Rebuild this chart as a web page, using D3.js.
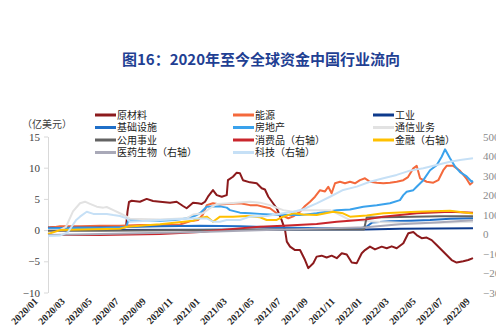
<!DOCTYPE html>
<html>
<head>
<meta charset="utf-8">
<script src="https://cdn.jsdelivr.net/npm/d3@7"></script>
<style>
  html, body { margin: 0; padding: 0; background: #fff; }
  svg { display: block; }
</style>
</head>
<body>
<svg id="chart" width="496" height="328"></svg>
<script>
// Months elapsed since 2020/01 for each observation, paired with the net flow value.
const tickLabels = ["2020/01","2020/03","2020/05","2020/07","2020/09","2020/11",
  "2021/01","2021/03","2021/05","2021/07","2021/09","2021/11",
  "2022/01","2022/03","2022/05","2022/07","2022/09"];

const leftTicks = [-10, -5, 0, 5, 10, 15];
const rightTicks = [-300, -200, -100, 0, 100, 200, 300, 400, 500];

// 原材料 (left axis, 亿美元)
const materials = [[0,0.4],[0.89,0.5],[2.37,0.4],[3.85,0.5],[5.33,0.4],[5.78,0.5],[5.89,3.0],[6.0,4.5],
  [6.2,4.7],[6.81,4.55],[7.31,5.0],[7.78,4.66],[8.3,4.55],[9.04,4.4],[9.53,4.55],[10.0,3.86],[10.27,3.5],
  [10.74,4.4],[11.11,4.3],[11.39,4.2],[11.63,4.55],[11.85,5.35],[12.22,6.4],[12.5,5.6],[12.87,5.35],
  [13.24,5.6],[13.33,8.0],[13.7,8.55],[13.98,9.2],[14.22,9.1],[14.44,8.0],[14.96,7.65],[15.46,7.5],
  [15.83,6.7],[16.07,6.5],[16.32,5.35],[16.94,3.5],[17.31,1.6],[17.56,0],[17.69,-1.85],[17.93,-2.65],
  [18.3,-3.2],[18.67,-3.2],[19.04,-4.8],[19.28,-6.1],[19.65,-5.3],[19.9,-4.25],[20.27,-4.1],[20.64,-4.4],
  [21.01,-4.1],[21.39,-4.5],[21.76,-3.7],[22.13,-3.9],[22.5,-5.2],[22.87,-5.3],[23.24,-3.7],[23.48,-3.2],
  [23.85,-2.65],[24.22,-3.1],[24.72,-2.65],[25.09,-2.9],[25.46,-2.6],[25.83,-2.9],[26.32,-2.1],[26.69,-0.5],
  [27.06,-0.3],[27.31,-0.8],[27.68,-1.3],[28.05,-1.2],[28.42,-1.6],[28.79,-2.4],[29.16,-3.2],[29.53,-4.0],
  [29.9,-4.8],[30.27,-5.2],[30.76,-5.0],[31.13,-4.8],[31.48,-4.5]];

// 能源 (left axis)
const energy = [[0,0.3],[0.89,0.6],[2.37,0.6],[3.85,0.7],[5.33,0.7],[6.81,0.8],[8.3,0.8],[9.78,0.9],
  [10.52,1.4],[11.11,1.6],[11.48,2.5],[11.76,4.0],[12.22,4.3],[12.74,4.1],[13.24,4.2],[14.22,4.3],
  [14.96,4.0],[15.46,4.0],[15.95,3.75],[16.44,3.5],[16.94,2.7],[17.43,2.26],[17.8,1.9],[18.17,2.2],
  [18.67,2.95],[19.04,3.86],[19.41,4.55],[19.78,5.35],[20.15,6.4],[20.52,6.2],[20.76,6.95],[21.01,5.9],
  [21.26,7.5],[21.63,7.75],[22.0,7.5],[22.37,7.75],[22.74,7.5],[23.11,8.0],[23.48,8.3],[23.85,7.75],
  [24.35,7.6],[24.84,7.5],[25.33,7.6],[25.83,7.75],[26.32,8.0],[26.67,8.5],[27.06,9.9],[27.31,10.3],
  [27.56,8.3],[28.05,7.75],[28.54,7.6],[28.91,8.0],[29.28,9.6],[29.53,10.3],[30.02,10.3],[30.52,9.5],
  [31.01,8.2],[31.26,7.3],[31.48,7.7]];

// 工业 (left axis)
const industrials = [[0,0.0],[3.85,0.0],[11.26,0.05],[18.67,0.1],[23.56,0.1],[26.07,0.2],[31.48,0.3]];

// 基础设施 (left axis)
const infrastructure = [[0,0.3],[2.37,0.4],[5.33,0.4],[5.85,0.5],[8.3,0.6],[11.26,0.7],[14.22,0.6],
  [17.18,0.4],[20.15,0.3],[23.11,0.3],[23.56,0.5],[24.0,1.2],[25.33,1.4],[26.81,1.5],[28.3,1.6],
  [29.78,1.8],[31.48,1.9]];

// 房地产 (left axis)
const realEstate = [[0,0.2],[1.63,0.3],[3.85,0.3],[5.33,0.4],[5.81,0.5],[5.96,1.7],[6.81,1.6],[8.3,1.5],
  [9.41,1.6],[10.27,1.9],[10.89,2.3],[11.26,2.7],[11.76,3.75],[12.22,3.8],[12.74,3.8],[13.24,3.6],
  [13.48,3.2],[14.22,2.8],[14.96,2.7],[15.7,2.6],[16.44,2.5],[17.43,2.4],[18.67,2.4],[19.9,2.7],
  [21.39,3.2],[22.37,3.3],[23.36,3.75],[24.35,4.0],[25.33,4.3],[26.07,4.8],[26.32,5.6],[26.57,6.15],
  [27.06,6.4],[27.31,6.95],[27.8,8.0],[28.3,9.6],[28.79,10.4],[29.16,11.75],[29.41,12.95],[29.78,11.5],
  [30.15,10.2],[30.52,9.3],[31.01,8.6],[31.39,7.75],[31.48,7.9]];

// 通信业务 (left axis)
const telecom = [[0,0.0],[0.89,0.0],[1.33,0.5],[1.85,3.0],[2.37,4.3],[2.74,4.55],[3.11,4.2],[3.61,3.75],
  [4.1,3.6],[4.35,3.7],[4.84,3.2],[5.33,2.7],[5.83,2.15],[6.07,1.8],[8.3,1.7],[10.27,1.9],[10.74,2.5],
  [11.48,2.7],[12.0,3.5],[12.5,4.2],[13.48,4.3],[14.96,4.55],[15.7,4.4],[16.44,4.0],[17.43,3.2],
  [18.17,2.95],[18.91,3.2],[20.89,3.2],[21.39,2.7],[22.37,1.6],[24.59,1.3],[27.56,1.1],[29.78,1.2],
  [31.48,1.35]];

// 公用事业 (left axis)
const utilities = [[0,-0.1],[3.85,-0.1],[11.26,0.0],[18.67,0.1],[23.41,0.1],[23.6,2.0],[26.07,2.1],
  [29.04,2.2],[31.48,2.2]];

// 消费品 (right axis)
const consumer = [[0,-5],[3.85,-5],[8.3,0],[11.26,10],[13.48,25],[15.7,37],[17.41,42],[19.9,51],
  [21.39,63],[22.37,68],[23.61,75],[24.81,89],[26.07,97],[27.31,106],[29.78,114],[31.48,109]];

// 金融 (right axis)
const financials = [[0,0],[0.89,20],[3.33,24],[5.33,27],[5.85,37],[8.3,50],[10.74,68],[11.26,82],
  [11.76,89],[12.22,63],[12.74,89],[13.7,89],[14.72,92],[15.7,86],[16.2,72],[16.94,72],[17.43,89],
  [18.17,106],[18.91,100],[19.9,97],[21.13,114],[21.85,106],[22.37,89],[23.61,95],[24.84,106],
  [26.07,110],[27.31,114],[29.78,119],[31.48,105]];

// 医药生物 (right axis)
const healthcare = [[0,-5],[3.85,0],[11.26,10],[18.67,25],[23.56,35],[26.07,50],[29.04,60],[31.48,70]];

// 科技 (right axis)
const technology = [[0,-10],[0.89,-8],[1.48,10],[2.07,70],[2.37,89],[2.87,114],[3.36,103],[3.85,102],
  [4.35,103],[4.84,97],[5.33,92],[5.83,80],[6.07,63],[8.3,72],[10.74,80],[11.76,80],[12.22,63],
  [12.74,63],[13.24,72],[14.22,72],[14.96,89],[16.2,92],[17.43,106],[18.17,114],[18.91,127],[19.9,157],
  [20.89,191],[21.87,226],[22.87,243],[23.85,268],[24.84,286],[25.83,303],[26.81,325],[27.8,337],
  [28.79,354],[29.78,371],[30.52,380],[31.48,388]];

const seriesNames = ["原材料","能源","工业","基础设施","房地产","通信业务","公用事业",
  "消费品（右轴）","金融（右轴）","医药生物（右轴）","科技（右轴）"];
const seriesData = [materials, energy, industrials, infrastructure, realEstate, telecom, utilities,
  consumer, financials, healthcare, technology];
const seriesAxis = ["L","L","L","L","L","L","L","R","R","R","R"];
const seriesColors = ["#8c1a1c","#f4693c","#0d3a8c","#1f6fc8","#3aa2ec","#e2e2e2","#636363",
  "#c9262c","#ffc000","#a9a9b8","#c6e0f6"];

const svg = d3.select("#chart");

// Title
svg.append("text")
  .attr("x", 261).attr("y", 65)
  .attr("text-anchor", "middle")
  .attr("font-family", "'Noto Sans CJK SC', sans-serif")
  .attr("font-weight", "bold")
  .attr("font-size", 15)
  .attr("fill", "#1f3f93")
  .text("图16：2020年至今全球资金中国行业流向");

// Scales
const x = d3.scaleLinear().domain([0, 32]).range([48, 480]);
const yL = d3.scaleLinear().domain([-10, 15]).range([292.5, 136.5]);
const yR = d3.scaleLinear().domain([-300, 500]).range([292.5, 136.5]);

// Unit label
svg.append("text")
  .attr("x", 22).attr("y", 128)
  .attr("font-family", "'Noto Sans CJK SC', sans-serif")
  .attr("font-size", 10)
  .attr("fill", "#404040")
  .text("（亿美元）");

// Left axis
const gL = svg.append("g")
  .attr("transform", "translate(48,0)")
  .call(d3.axisLeft(yL).tickValues(leftTicks).tickSize(4).tickSizeOuter(0).tickPadding(4));
gL.select(".domain").attr("stroke", "#d9d9d9");
gL.selectAll(".tick line").attr("stroke", "#d9d9d9");
gL.selectAll(".tick text")
  .attr("font-family", "'Liberation Serif', serif")
  .attr("font-size", 11)
  .attr("fill", "#404040");

// Right axis (labels run past the right edge of the frame)
const gR = svg.append("g")
  .attr("transform", "translate(483,0)")
  .call(d3.axisRight(yR).tickValues(rightTicks).tickSize(0).tickPadding(0));
gR.select(".domain").remove();
gR.selectAll(".tick text")
  .attr("font-family", "'Liberation Serif', serif")
  .attr("font-size", 11)
  .attr("fill", "#8a8a8a");

// Bottom axis with rotated date labels
const gX = svg.append("g")
  .attr("transform", "translate(0,302)")
  .call(d3.axisBottom(x)
    .tickValues(d3.range(0, 33, 2))
    .tickFormat((d, i) => tickLabels[i])
    .tickSize(0));
gX.select(".domain").remove();
gX.selectAll(".tick text")
  .attr("y", 0).attr("dy", 0)
  .attr("text-anchor", "end")
  .attr("transform", "translate(-10,0) rotate(-45)")
  .attr("font-family", "'Liberation Serif', serif")
  .attr("font-weight", "bold")
  .attr("font-size", 10)
  .attr("fill", "#262626");

// Lines
seriesData.forEach((data, i) => {
  const yScale = seriesAxis[i] === "L" ? yL : yR;
  const line = d3.line().x(d => x(d[0])).y(d => yScale(d[1]));
  svg.append("path")
    .datum(data)
    .attr("fill", "none")
    .attr("stroke", seriesColors[i])
    .attr("stroke-width", 2)
    .attr("stroke-linejoin", "round")
    .attr("d", line);
});

// Legend: three columns, four rows
const legendCols = [95, 233, 373];
const legendRows = [115, 127.5, 140, 152.5];
seriesNames.forEach((name, i) => {
  const cx = legendCols[i % 3];
  const cy = legendRows[Math.floor(i / 3)];
  const g = svg.append("g");
  g.append("line")
    .attr("x1", cx).attr("x2", cx + 21)
    .attr("y1", cy).attr("y2", cy)
    .attr("stroke", seriesColors[i])
    .attr("stroke-width", 3);
  g.append("text")
    .attr("x", cx + 22).attr("y", cy + 3.5)
    .attr("font-family", "'Noto Sans CJK SC', sans-serif")
    .attr("font-size", 10)
    .attr("fill", "#1a1a1a")
    .text(name);
});
</script>
</body>
</html>
